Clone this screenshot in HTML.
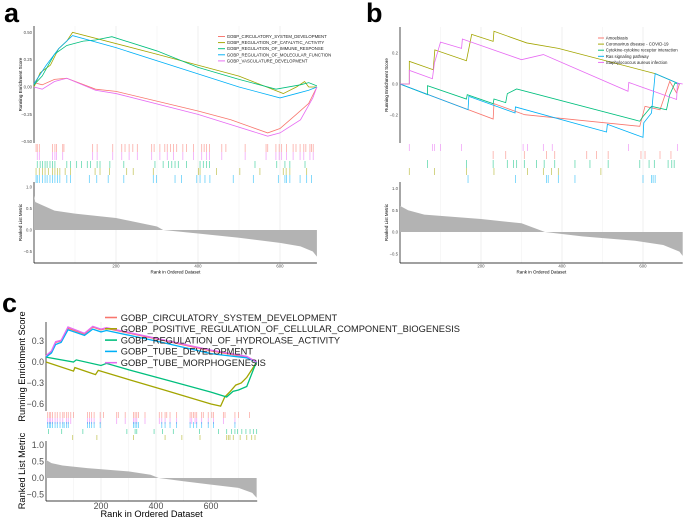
<!DOCTYPE html>
<html><head><meta charset="utf-8"><style>
html,body{margin:0;padding:0;background:#fff;width:685px;height:519px;overflow:hidden}
svg{display:block;font-family:"Liberation Sans",Arial,sans-serif}
</style></head><body>
<svg id="fig" width="685" height="519" viewBox="0 0 685 519" xmlns="http://www.w3.org/2000/svg">
<text x="4" y="22" font-size="27" font-weight="bold">a</text>
<text x="366" y="22" font-size="27" font-weight="bold">b</text>
<text x="2" y="312" font-size="27" font-weight="bold">c</text>
</svg>
<script>
const COLORS=["#F8766D","#A3A500","#00BF7D","#00B0F6","#E76BF3"];
// ---- Panel a data ----
const aNames=["GOBP_CIRCULATORY_SYSTEM_DEVELOPMENT","GOBP_REGULATION_OF_CATALYTIC_ACTIVITY","GOBP_REGULATION_OF_IMMUNE_RESPONSE","GOBP_REGULATION_OF_MOLECULAR_FUNCTION","GOBP_VASCULATURE_DEVELOPMENT"];
const aRed=[[0,0.04],[20,0.02],[50,0.07],[80,0.08],[150,-0.02],[200,-0.04],[400,-0.22],[480,-0.3],[570,-0.42],[600,-0.38],[640,-0.25],[670,-0.15],[690,0.0]];
const aOlive=[[0,0],[15,0.13],[40,0.2],[60,0.35],[80,0.42],[94,0.5],[300,0.3],[500,0.1],[608,-0.06],[640,0.0],[660,0.05],[670,0.0],[690,0.0]];
const aGreen=[[0,0.02],[20,0.1],[50,0.3],[80,0.38],[120,0.42],[150,0.43],[190,0.46],[300,0.33],[400,0.18],[500,0.07],[590,-0.02],[650,0.02],[670,0.04],[690,0.01]];
const aBlue=[[0,0.03],[30,0.2],[60,0.35],[94,0.47],[200,0.36],[400,0.12],[500,0.0],[600,-0.1],[640,-0.06],[670,-0.03],[690,0.0]];
const aPink=[[0,0.0],[20,-0.02],[50,0.05],[80,0.08],[150,-0.03],[200,-0.06],[400,-0.25],[570,-0.45],[600,-0.42],[650,-0.3],[680,-0.1],[690,0.0]];
const aHitsRed=[5,8,13,45,51,55,70,73,143,154,192,214,222,232,241,252,287,293,307,319,325,333,340,348,363,372,389,409,415,421,428,458,468,515,566,570,590,598,604,616,632,639,649,658,663,673,677,681];
const aHitsPink=[8,13,45,51,55,70,143,154,192,214,232,252,287,307,325,340,363,389,409,421,428,458,515,566,590,598,604,616,632,649,658,673,681];
const aHitsGreen=[8,15,21,27,32,39,45,51,80,89,104,116,130,138,154,161,185,219,295,315,328,336,344,352,372,405,413,421,428,539,592,612,624,661];
const aHitsOlive=[5,13,21,27,35,45,51,57,63,76,89,149,161,184,226,242,291,401,405,445,502,551,608,615,624,665];
const aHitsBlue=[5,8,13,21,27,32,39,45,51,57,63,80,89,135,153,181,219,291,299,344,360,397,405,417,429,486,535,596,612,616,624,649,665,677];
const aMetricRank=[0,3,15,50,100,200,300,315,400,500,600,650,680,690];
const aMetricVal=[0.8,0.65,0.6,0.45,0.38,0.28,0.08,0,-0.08,-0.18,-0.3,-0.38,-0.5,-0.62];
const aEsTicks=[0.5,0.25,0,-0.25,-0.5];
const aEsTickLabels=["0.50","0.25","0.00","\u22120.25","\u22120.50"];
// ---- Panel b data ----
const bNames=["Amoebiasis","Coronavirus disease - COVID-19","Cytokine-cytokine receptor interaction","Ras signaling pathway","Staphylococcus aureus infection"];
const bRed=[[0,0],[230,-0.226],[232,-0.127],[308,-0.198],[592,-0.273],[605,-0.144],[642,-0.166],[666,0.017],[683,-0.058],[690,0]];
const bOlive=[[0,0],[23,0],[23,0.146],[82,0.092],[86,0.22],[164,0.15],[177,0.32],[230,0.275],[232,0.34],[313,0.265],[391,0.23],[630,0.067],[690,0]];
const bGreen=[[0,0],[68,-0.069],[68,-0.011],[164,-0.097],[166,-0.069],[230,-0.127],[232,-0.097],[261,-0.12],[265,-0.062],[288,-0.032],[592,-0.24],[600,-0.21],[621,-0.144],[658,-0.166],[666,-0.069],[679,0.006],[690,0]];
const bBlue=[[0,0],[168,-0.166],[170,-0.08],[284,-0.187],[285,-0.148],[510,-0.31],[512,-0.26],[600,-0.344],[602,-0.25],[621,-0.187],[630,0.067],[690,0]];
const bPink=[[0,0],[23,0],[23,0.088],[80,0.034],[85,0.135],[100,0.27],[152,0.23],[154,0.29],[300,0.157],[354,0.19],[563,-0.047],[565,0.01],[683,-0.1],[685,0.006],[698,0]];
const bHitsPink=[23,80,85,100,152,304,315,354,376,564,685];
const bHitsRed=[230,261,307,362,382,461,485,514,595,605,642,669];
const bHitsGreen=[68,164,230,265,280,288,307,337,356,382,432,469,514,592,615,628,662,671,677];
const bHitsOlive=[23,85,164,232,315,354,374,391,496];
const bHitsBlue=[168,285,362,366,391,432,600,621,625,630];
const bMetricRank=[0,20,60,200,300,358,450,580,650,690,698];
const bMetricVal=[0.6,0.5,0.4,0.3,0.2,0,-0.1,-0.2,-0.3,-0.45,-0.55];
const bEsTicks=[0.2,0,-0.2];
const bEsTickLabels=["0.2","0.0","\u22120.2"];
// ---- Panel c data ----
const cNames=["GOBP_CIRCULATORY_SYSTEM_DEVELOPMENT","GOBP_POSITIVE_REGULATION_OF_CELLULAR_COMPONENT_BIOGENESIS","GOBP_REGULATION_OF_HYDROLASE_ACTIVITY","GOBP_TUBE_DEVELOPMENT","GOBP_TUBE_MORPHOGENESIS"];
const cRed=[[0,0.08],[20,0.15],[35,0.28],[55,0.3],[80,0.48],[140,0.4],[170,0.5],[200,0.46],[220,0.48],[400,0.33],[600,0.16],[730,0.07],[766,0]];
const cOlive=[[0,0],[100,-0.13],[105,-0.08],[180,-0.18],[190,-0.12],[300,-0.25],[430,-0.4],[600,-0.6],[635,-0.63],[650,-0.5],[670,-0.42],[690,-0.33],[710,-0.3],[730,-0.22],[750,-0.1],[766,0]];
const cGreen=[[0,0.07],[100,0.0],[110,0.03],[200,-0.05],[220,-0.02],[300,-0.11],[450,-0.27],[600,-0.43],[657,-0.5],[680,-0.42],[700,-0.4],[730,-0.35],[745,-0.2],[760,-0.05],[766,0]];
const cBlue=[[0,0.07],[20,0.13],[35,0.25],[55,0.28],[80,0.46],[140,0.38],[170,0.47],[200,0.43],[220,0.45],[400,0.3],[600,0.12],[640,0.1],[730,0.06],[766,0]];
const cPink=[[0,0.09],[20,0.16],[35,0.29],[55,0.31],[80,0.5],[140,0.41],[170,0.51],[200,0.47],[220,0.49],[400,0.34],[600,0.17],[730,0.08],[766,0]];
const cHitsRed=[6,12,17,24,33,41,51,61,66,75,81,90,100,151,158,166,175,197,209,257,263,288,318,324,330,336,360,412,421,433,439,451,475,524,530,536,542,548,566,572,590,603,609,645,651,687,700,740];
const cHitsPink=[6,12,17,24,33,41,51,61,75,81,90,151,158,166,175,197,257,288,318,324,330,360,412,421,433,451,475,524,530,542,548,566,590,609,645,687];
const cHitsBlue=[6,12,17,24,33,41,51,61,66,75,81,151,158,166,175,197,318,324,330,336,421,433,451,475,524,536,548,566,590,609,687];
const cHitsGreen=[9,57,134,294,324,330,393,424,463,558,627,657,675,687,696,712,727,742,754,766];
const cHitsOlive=[97,185,318,433,494,560,657,663,669,681,706,730,748,760];
const cMetricRank=[0,20,60,150,300,380,410,500,600,700,750,766];
const cMetricVal=[0.55,0.45,0.38,0.3,0.2,0.1,0,-0.1,-0.2,-0.3,-0.45,-0.6];
const cEsTicks=[0.3,0,-0.3,-0.6];
const cEsTickLabels=["0.3","0.0","\u22120.3","\u22120.6"];
const metricTicks=[1,0.5,0,-0.5];
const metricTickLabels=["1.0","0.5","0.0","\u22120.5"];
const rankTicks=[200,400,600];

const NS="http://www.w3.org/2000/svg";
const svg=document.getElementById("fig");
function mk(tag,attrs,parent){const e=document.createElementNS(NS,tag);for(const k in attrs)e.setAttribute(k,attrs[k]);(parent||svg).appendChild(e);return e;}

function panel(p,key){
  const g=mk("g",{});
  
  
  const X=r=>p.x0+(r-p.r0)*p.kx;
  const Y=v=>p.esZero-v*p.ky;
  const M=v=>p.mZero-v*p.km;
  const xr=X(p.rmax);
  for(let r=100;r<p.rmax;r+=100){
    const gl=mk("line",{x1:X(r),x2:X(r),y1:p.top,y2:p.bottom,stroke:"#ebebeb","stroke-width":r%200==0?0.8:0.4},g);
    
    
  }
  const ax1=mk("line",{x1:p.x0,x2:p.x0,y1:p.top,y2:p.esBot,stroke:"#000","stroke-width":0.7},g);
  
  
  const ax2=mk("line",{x1:p.x0,x2:p.x0,y1:p.mTop,y2:p.bottom,stroke:"#000","stroke-width":0.7},g);
  
  
  const ax3=mk("line",{x1:p.x0,x2:xr,y1:p.bottom,y2:p.bottom,stroke:"#000","stroke-width":0.7},g);
  
  
  p.esTicks.forEach((v,i)=>{
    const t=mk("text",{x:p.x0-2,y:Y(v)+p.fs*0.35,"font-size":p.fs,"text-anchor":"end",fill:"#4d4d4d"},g);
    t.textContent=p.esLabels[i];
    
    
  });
  metricTicks.forEach((v,i)=>{
    const t=mk("text",{x:p.x0-2,y:M(v)+p.fs*0.35,"font-size":p.fs,"text-anchor":"end",fill:"#4d4d4d"},g);
    t.textContent=metricTickLabels[i];
    
    
  });
  rankTicks.forEach(r=>{
    const t=mk("text",{x:X(r),y:p.bottom+p.tickOff,"font-size":p.fs,"text-anchor":"middle",fill:"#4d4d4d"},g);
    t.textContent=String(r);
    
    
  });
  const xt=mk("text",{x:(p.x0+xr)/2,y:p.bottom+p.titleOff,"font-size":p.fs*1.05,"text-anchor":"middle"},g);
  xt.textContent="Rank in Ordered Dataset";
  
  
  const y1=(p.top+p.esBot)/2, y2=(p.mTop+p.bottom)/2, tx=p.x0-p.yTitleOff;
  const yt=mk("text",{x:tx,y:y1,"font-size":p.fs*1.05,"text-anchor":"middle",transform:`rotate(-90 ${tx} ${y1})`},g);
  yt.textContent="Running Enrichment Score";
  
  
  const yt2=mk("text",{x:tx,y:y2,"font-size":p.fs*1.05,"text-anchor":"middle",transform:`rotate(-90 ${tx} ${y2})`},g);
  yt2.textContent="Ranked List Metric";
  
  
  let d=`M${X(p.mRank[0])},${M(0)}`;
  p.mRank.forEach((r,i)=>{d+=` L${X(r)},${M(p.mVal[i])}`;});
  d+=` L${X(p.mRank[p.mRank.length-1])},${M(0)} Z`;
  const ar=mk("path",{d:d,fill:"#b3b3b3",stroke:"none"},g);
  
  
  p.hits.forEach((h,row)=>{
    h.list.forEach(r=>{
      const l=mk("line",{x1:X(r),x2:X(r),y1:h.y0,y2:h.y1,stroke:COLORS[h.c],"stroke-width":0.8,"stroke-opacity":0.6},g);
      
      
    });
  });
  p.series.forEach((s,i)=>{
    const pts=s.map(q=>X(q[0])+","+Y(q[1])).join(" ");
    const pl=mk("polyline",{points:pts,fill:"none",stroke:COLORS[i],"stroke-width":p.lw},g);
    
    
  });
  p.names.forEach((n,i)=>{
    const ly=p.legY+i*p.legDy;
    const ll=mk("line",{x1:p.legX,x2:p.legX+p.legKey,y1:ly,y2:ly,stroke:COLORS[i],"stroke-width":p.lw*1.2},g);
    
    
    const lt=mk("text",{x:p.legX+p.legKey+p.legFs*0.4,y:ly+p.legFs*0.35,"font-size":p.legFs,fill:"#222"},g);
    lt.textContent=n;
    
    
  });
}

panel({x0:34,r0:0,kx:0.41,rmax:690,top:26,esBot:143,esZero:87,ky:109.3,mTop:182,mZero:230,km:43,bottom:263,fs:4.3,lw:0.8,
  tickOff:4.5,titleOff:10.5,yTitleOff:12,
  esTicks:aEsTicks,esLabels:aEsTickLabels,mRank:aMetricRank,mVal:aMetricVal,
  series:[aRed,aOlive,aGreen,aBlue,aPink],names:aNames,legX:218,legY:36.5,legDy:6.1,legKey:7,legFs:4.3,
  hits:[{list:aHitsRed,c:0,y0:144,y1:152},{list:aHitsPink,c:4,y0:152,y1:160},{list:aHitsGreen,c:2,y0:161,y1:168},{list:aHitsOlive,c:1,y0:168,y1:175},{list:aHitsBlue,c:3,y0:175,y1:183}]},"panel-a");

panel({x0:400,r0:0,kx:0.405,rmax:698,top:27,esBot:143,esZero:84,ky:155,mTop:182,mZero:232,km:43.5,bottom:263,fs:4.3,lw:0.8,
  tickOff:4.5,titleOff:10.5,yTitleOff:12,
  esTicks:bEsTicks,esLabels:bEsTickLabels,mRank:bMetricRank,mVal:bMetricVal,
  series:[bRed,bOlive,bGreen,bBlue,bPink],names:bNames,legX:598,legY:38,legDy:6.1,legKey:6,legFs:4.3,
  hits:[{list:bHitsPink,c:4,y0:144,y1:151},{list:bHitsRed,c:0,y0:151,y1:159},{list:bHitsGreen,c:2,y0:160,y1:168},{list:bHitsOlive,c:1,y0:168,y1:175},{list:bHitsBlue,c:3,y0:175,y1:183}]},"panel-b");

panel({x0:46,r0:0,kx:0.275,rmax:768,top:322,esBot:411,esZero:362,ky:70,mTop:441,mZero:478,km:33,bottom:501,fs:8.8,lw:1.3,
  tickOff:8,titleOff:16,yTitleOff:21,
  esTicks:cEsTicks,esLabels:cEsTickLabels,mRank:cMetricRank,mVal:cMetricVal,
  series:[cRed,cOlive,cGreen,cBlue,cPink],names:cNames,legX:105,legY:317.5,legDy:11.3,legKey:12,legFs:9.3,
  hits:[{list:cHitsRed,c:0,y0:412,y1:418},{list:cHitsPink,c:4,y0:418,y1:424},{list:cHitsBlue,c:3,y0:422,y1:428},{list:cHitsGreen,c:2,y0:429,y1:434},{list:cHitsOlive,c:1,y0:435,y1:440}]},"panel-c");
</script>
</body></html>
